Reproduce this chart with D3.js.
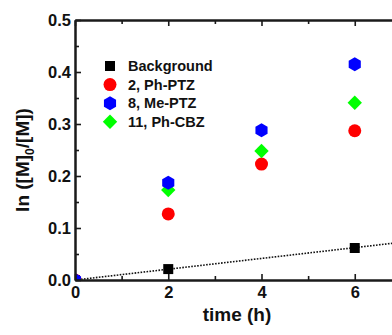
<!DOCTYPE html>
<html>
<head>
<meta charset="utf-8">
<script src="https://cdn.jsdelivr.net/npm/d3@7"></script>
<style>
  body { margin: 0; background: #fff; }
  svg { display: block; overflow: hidden; }
  text { font-family: "Liberation Sans", Arial, sans-serif; font-weight: bold; fill: #111; }
</style>
</head>
<body>
<svg id="chart" width="392" height="335"></svg>
<script>
// data
const times = [0, 2, 4, 6];
const background = [0, 0.021, null, 0.0615];
const phPTZ = [0, 0.127, 0.223, 0.287];
const mePTZ = [0, 0.187, 0.288, 0.415];
const phCBZ = [0, 0.173, 0.248, 0.341];
const fitTimes = [0, 8];
const fitValues = [0, 0.083];

const xTicks = [0, 2, 4, 6];
const xMinorTicks = [1, 3, 5, 7];
const yTicks = [0, 0.1, 0.2, 0.3, 0.4, 0.5];
const yMinorTicks = [0.05, 0.15, 0.25, 0.35, 0.45];

const seriesNames = ['Background', '2, Ph-PTZ', '8, Me-PTZ', '11, Ph-CBZ'];
const seriesColours = ['#000000', '#ff0000', '#0000ff', '#00ff00'];
const seriesShapes = ['square', 'circle', 'hexagon', 'diamond'];
const seriesValues = [background, phPTZ, mePTZ, phCBZ];
// drawing order (blue sits over green at t = 2)
const drawOrder = [0, 1, 3, 2];

const svg = d3.select('#chart');
const m = { l: 75, t: 20 };
const iHeight = 260;
const iWidth = 373;

const x = d3.scaleLinear().domain([0, 8]).range([m.l, m.l + iWidth]);
const y = d3.scaleLinear().domain([0, 0.5]).range([m.t + iHeight, m.t]);

// marker shapes
const markerPath = (shape) => {
  if (shape === 'square') return 'M-5,-5H5V5H-5Z';
  if (shape === 'circle') return d3.symbol(d3.symbolCircle, Math.PI * 6.5 * 6.5)();
  if (shape === 'diamond') return 'M0,-7.2L7.2,0L0,7.2L-7.2,0Z';
  const r = 7;
  const pts = d3.range(6).map(i => {
    const a = Math.PI / 3 * i - Math.PI / 2;
    return [r * Math.cos(a), r * Math.sin(a)];
  });
  return 'M' + pts.join('L') + 'Z';
};

// clip for plot contents
svg.append('clipPath').attr('id', 'plot-clip')
  .append('rect')
  .attr('x', m.l).attr('y', m.t)
  .attr('width', iWidth).attr('height', iHeight);

const oPlotG = svg.append('g').attr('clip-path', 'url(#plot-clip)');

// dotted linear fit for background
const line = d3.line().x(d => x(d[0])).y(d => y(d[1]));
oPlotG.append('path')
  .datum(fitTimes.map((t, i) => [t, fitValues[i]]))
  .attr('d', line)
  .attr('fill', 'none')
  .attr('stroke', '#111')
  .attr('stroke-width', 1.6)
  .attr('stroke-dasharray', '1.6,1.4');

drawOrder.forEach(i => {
  const pts = times.map((t, j) => [t, seriesValues[i][j]]).filter(d => d[1] !== null);
  oPlotG.append('g').selectAll('path')
    .data(pts)
    .enter()
    .append('path')
    .attr('d', markerPath(seriesShapes[i]))
    .attr('transform', d => `translate(${x(d[0])},${y(d[1])})`)
    .attr('fill', seriesColours[i]);
});

// axes
const styleAxis = (g) => {
  g.selectAll('.domain').attr('stroke', '#1a1a1a').attr('stroke-width', 2);
  g.selectAll('.tick line').attr('stroke', '#1a1a1a').attr('stroke-width', 1.6);
  g.selectAll('.tick text').style('font-size', '16.5px').attr('fill', '#111');
};

const fmtY = d3.format('.1f');

svg.append('g')
  .attr('transform', `translate(0,${m.t + iHeight})`)
  .call(d3.axisBottom(x).tickValues(xMinorTicks).tickFormat('').tickSizeInner(-4).tickSizeOuter(0))
  .call(styleAxis);
svg.append('g')
  .attr('transform', `translate(0,${m.t + iHeight})`)
  .call(d3.axisBottom(x).tickValues(xTicks).tickFormat(d3.format('d')).tickSizeInner(-6).tickSizeOuter(0).tickPadding(6))
  .call(styleAxis);

svg.append('g')
  .attr('transform', `translate(0,${m.t})`)
  .call(d3.axisTop(x).tickValues(xMinorTicks).tickFormat('').tickSizeInner(-4).tickSizeOuter(0))
  .call(styleAxis);
svg.append('g')
  .attr('transform', `translate(0,${m.t})`)
  .call(d3.axisTop(x).tickValues(xTicks).tickFormat('').tickSizeInner(-6).tickSizeOuter(0))
  .call(styleAxis);

svg.append('g')
  .attr('transform', `translate(${m.l},0)`)
  .call(d3.axisLeft(y).tickValues(yMinorTicks).tickFormat('').tickSizeInner(-4).tickSizeOuter(0))
  .call(styleAxis);
svg.append('g')
  .attr('transform', `translate(${m.l},0)`)
  .call(d3.axisLeft(y).tickValues(yTicks).tickFormat(fmtY).tickSizeInner(-6).tickSizeOuter(0).tickPadding(4))
  .call(styleAxis);

// axis titles
svg.append('text')
  .attr('x', 237)
  .attr('y', 321)
  .attr('text-anchor', 'middle')
  .style('font-size', '19px')
  .text('time (h)');

const yTitle = svg.append('text')
  .attr('transform', 'translate(29,160) rotate(-90)')
  .attr('text-anchor', 'middle')
  .style('font-size', '19px');
yTitle.append('tspan').text('ln ([M]');
yTitle.append('tspan').attr('dy', 5).style('font-size', '12px').text('0');
yTitle.append('tspan').attr('dy', -5).text('/[M])');

// legend
const oKeyG = svg.append('g').attr('class', 'key');
seriesNames.forEach((sName, i) => {
  const yy = 66 + i * 18.6;
  oKeyG.append('path')
    .attr('d', markerPath(seriesShapes[i]))
    .attr('transform', `translate(110,${yy})`)
    .attr('fill', seriesColours[i]);
  oKeyG.append('text')
    .attr('x', 128)
    .attr('y', yy)
    .attr('dy', '0.36em')
    .style('font-size', '14.5px')
    .text(sName);
});
</script>
</body>
</html>
